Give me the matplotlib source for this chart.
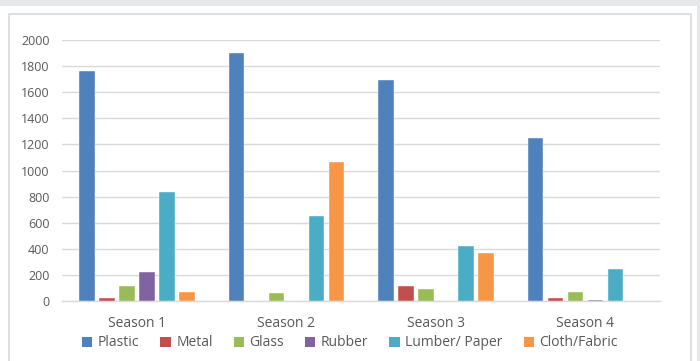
import matplotlib
matplotlib.use("Agg")
import matplotlib.pyplot as plt
from matplotlib.patches import Rectangle
import numpy as np

categories = ["Season 1", "Season 2", "Season 3", "Season 4"]
series_names = ["Plastic", "Metal", "Glass", "Rubber", "Lumber/ Paper", "Cloth/Fabric"]
plastic = [1760, 1900, 1690, 1250]
metal = [25, 0, 115, 25]
glass = [115, 60, 90, 70]
rubber = [220, 0, 0, 10]
lumber = [835, 650, 425, 245]
cloth = [70, 1065, 370, 0]
yticks = [0, 200, 400, 600, 800, 1000, 1200, 1400, 1600, 1800, 2000]

colors = ["#4F81BD", "#C0504D", "#9BBB59", "#8064A2", "#4BACC6", "#F79646"]
series = [plastic, metal, glass, rubber, lumber, cloth]

plt.rcParams['font.family'] = ['Open Sans', 'DejaVu Sans']
W, H = 700, 361
fig = plt.figure(figsize=(W/100, H/100), dpi=100)
fig.patch.set_facecolor("white")

# background frame
fig.add_artist(Rectangle((0, 1 - 6/H), 1, 6/H, transform=fig.transFigure,
                         facecolor="#E6E7E8", edgecolor="none", zorder=-3))
fig.add_artist(Rectangle((8.5/W, -0.05), (691-8.5)/W, 1 - 13.5/H + 0.05, transform=fig.transFigure,
                         facecolor="white", edgecolor="#D9D9D9", linewidth=1.2, zorder=-2))
fig.add_artist(Rectangle((697/W, 0), 3/W, 1, transform=fig.transFigure,
                         facecolor="#E6E7E8", edgecolor="none", zorder=-3))

ax = fig.add_axes([62/W, 60/H, (660-62)/W, (301-40)/H])
ax.set_facecolor("none")
x = np.arange(len(categories))
stride = 20/149.5
bw = 15.5/149.5
for i, (name, vals, c) in enumerate(zip(series_names, series, colors)):
    off = (i - 2.5) * stride
    ax.bar(x + off, vals, width=bw, color=c, label=name, zorder=3,
           edgecolor="white", linewidth=0.3)

ax.set_xlim(-0.5, len(categories) - 0.5)
ax.set_ylim(0, 2000)
ax.set_yticks(yticks)
ax.set_yticklabels([str(v) for v in yticks])
ax.set_xticks(x)
ax.set_xticklabels(categories)
ax.yaxis.grid(True, color="#D9D9D9", linewidth=1.0, zorder=0)
ax.set_axisbelow(True)
for s in ["top", "right", "left"]:
    ax.spines[s].set_visible(False)
ax.spines["bottom"].set_color("#D9D9D9")
ax.spines["bottom"].set_linewidth(1.0)
ax.tick_params(axis="both", length=0, colors="#595959")
ax.tick_params(axis="y", labelsize=9, pad=9)
ax.tick_params(axis="x", labelsize=10, pad=11)

handles = [Rectangle((0, 0), 1, 1, facecolor=c, edgecolor="none") for c in colors]
fig.legend(handles, series_names, loc="center", bbox_to_anchor=(350/W, 1 - 343/H),
           ncol=6, frameon=False, fontsize=10, handlelength=0.75, handleheight=0.75,
           handletextpad=0.4, columnspacing=1.5, labelcolor="#595959",
           borderaxespad=0, borderpad=0)

fig.savefig("out.png", dpi=100)
